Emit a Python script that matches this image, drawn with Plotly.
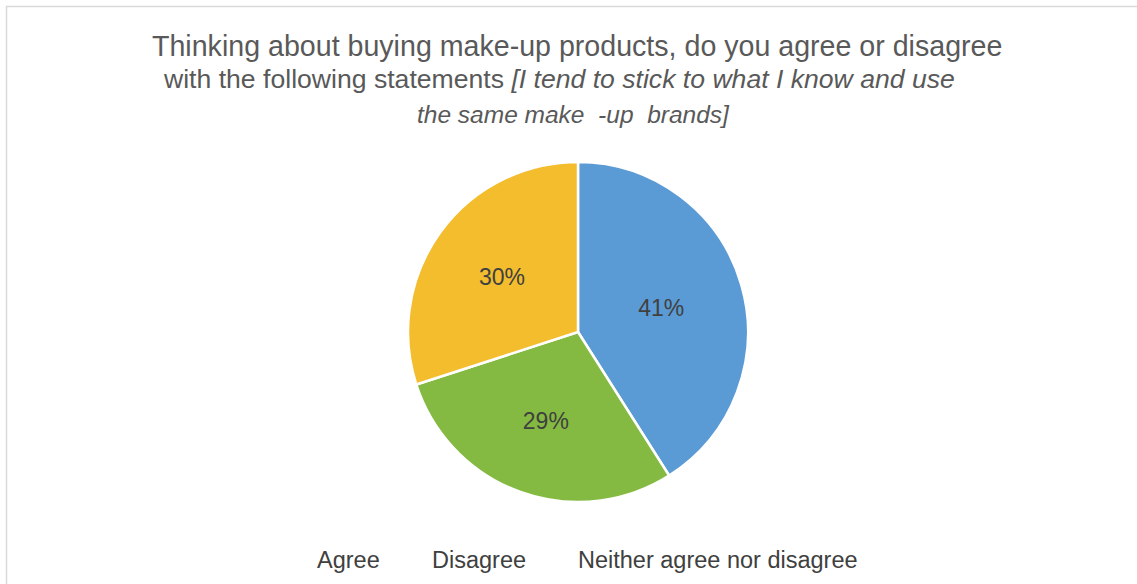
import plotly.graph_objects as go

labels = ["Agree", "Disagree", "Neither agree nor disagree"]
values = [41, 29, 30]
colors = ["#5B9BD5", "#84BA41", "#F4BD2E"]

W, H = 1137, 584

fig = go.Figure()
fig.add_trace(go.Pie(
    labels=labels, values=values, sort=False, direction="clockwise", rotation=0,
    marker=dict(colors=colors, line=dict(color="white", width=2.5)),
    texttemplate="%{percent:.0%}", textposition="inside",
    insidetextorientation="horizontal",
    textfont=dict(family="Liberation Sans, Arial", size=23, color="#404040"),
    domain=dict(x=[408/W, 748/W], y=[1-502/H, 1-162/H]),
    showlegend=False, hoverinfo="label+percent",
))

lines = [
    ("Thinking about buying make-up products, do you agree or disagree", 577, 46, 28.6),
    ("with the following statements <i>[I tend to stick to what I know and use</i>", 559, 79, 26.6),
    ("<i>the same make  -up  brands]</i>", 573, 115, 24.5),
]
for txt, cx, cy, fs in lines:
    fig.add_annotation(text=txt, x=cx/W, y=1-cy/H, xref="paper", yref="paper",
                       xanchor="center", yanchor="middle", showarrow=False,
                       font=dict(family="Liberation Sans, Arial", size=fs, color="#595959"))

leg_font = dict(family="Liberation Sans, Arial", size=23.5, color="#404040")
for lab, lx in zip(labels, [315, 430, 576]):
    fig.add_annotation(text=lab, x=lx/W, y=1-560/H, xref="paper", yref="paper",
                       xanchor="left", yanchor="middle", showarrow=False, font=leg_font)

fig.add_shape(type="rect", xref="paper", yref="paper",
              x0=6.5/W, x1=1.2, y0=-0.2, y1=1-6.5/H,
              line=dict(color="#D9D9D9", width=1.5), fillcolor="rgba(0,0,0,0)")

fig.update_layout(width=W, height=H, margin=dict(l=0, r=0, t=0, b=0),
                  paper_bgcolor="white", plot_bgcolor="white")
fig.write_html("out.html")
